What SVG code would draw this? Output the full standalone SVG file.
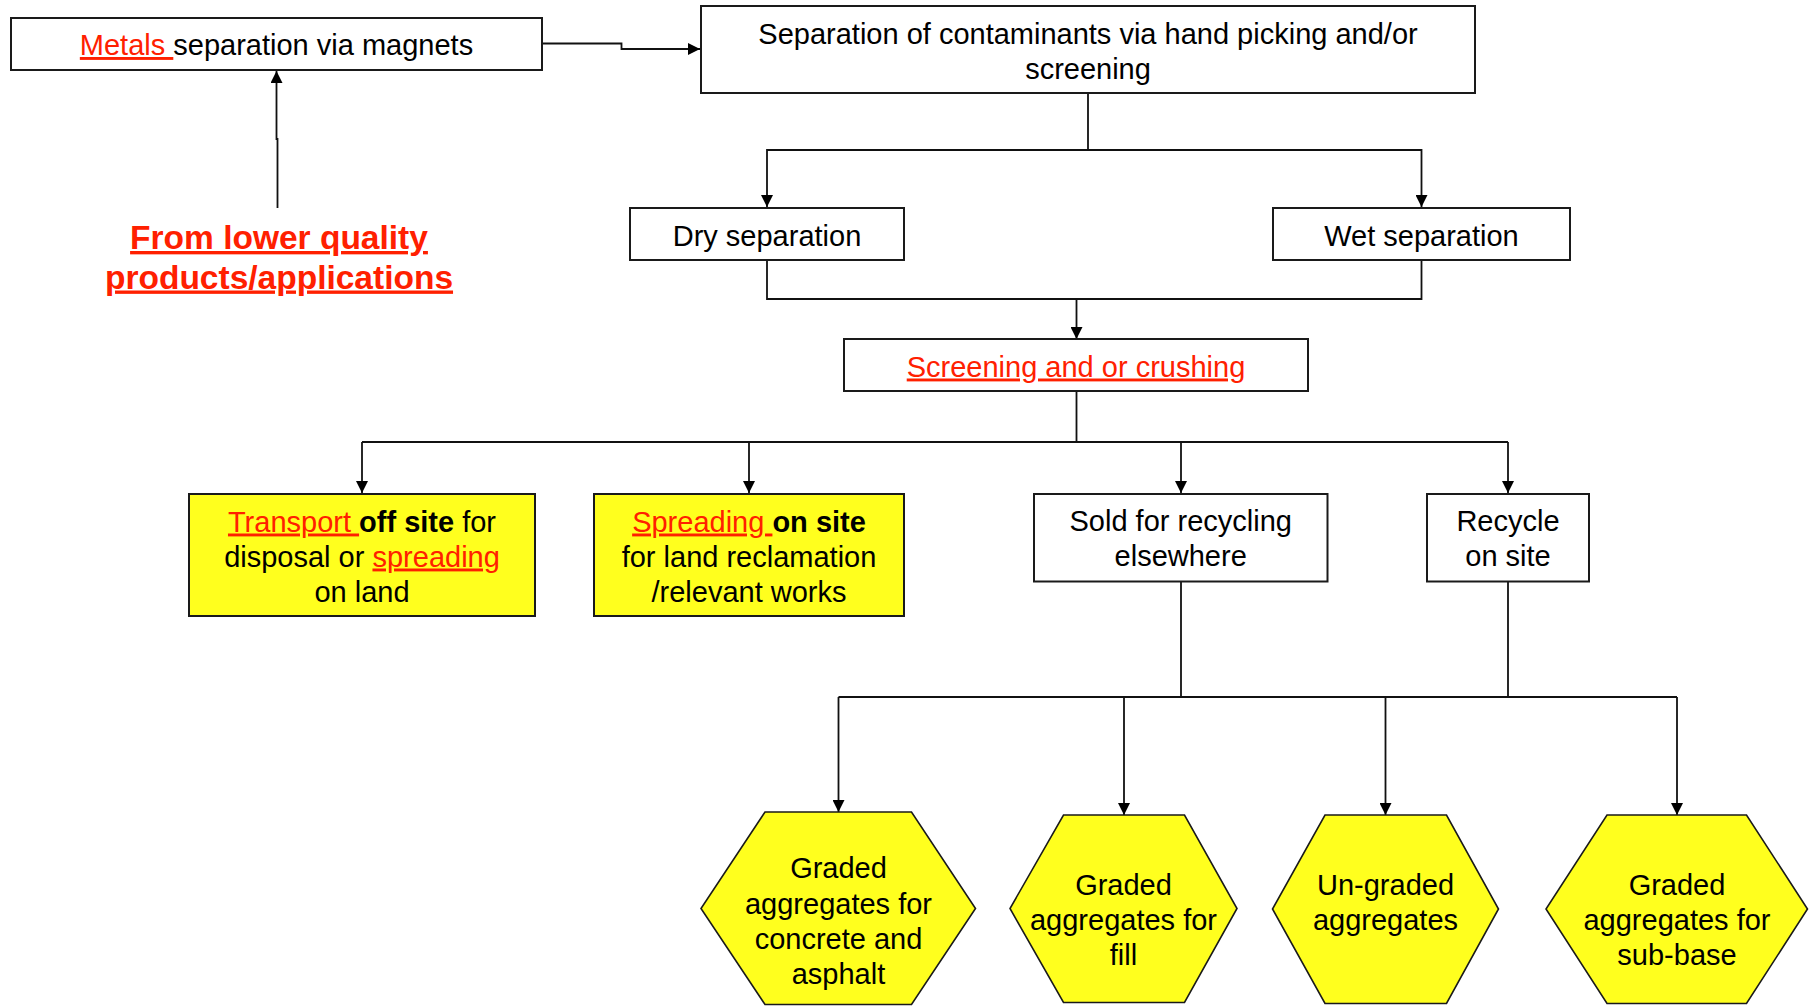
<svg xmlns="http://www.w3.org/2000/svg" width="1815" height="1006" viewBox="0 0 1815 1006">
  <style>
    .box { fill: #ffffff; stroke: #1a1a1a; stroke-width: 2; }
    .hl { fill: #ffff1e; stroke: #1a1a1a; stroke-width: 2; }
    .hex { fill: #ffff1e; stroke: #1a1a1a; stroke-width: 1.6; stroke-linejoin: miter; }
    .t { font-family: "Liberation Sans", Arial, sans-serif; font-size: 29px; fill: #000000; text-anchor: middle; }
    .red { fill: #ff2000; text-decoration: underline; }
    .b { font-weight: bold; }
    .big { font-family: "Liberation Sans", Arial, sans-serif; font-size: 33.5px; font-weight: bold; fill: #ff2000; text-anchor: middle; text-decoration: underline; }
    .wire { fill: none; stroke: #111111; stroke-width: 1.8; }
  </style>
  <defs>
    <marker id="arrow" markerUnits="userSpaceOnUse" markerWidth="12" markerHeight="12" refX="12" refY="6" orient="auto">
      <path d="M0,0 L12,6 L0,12 z" fill="#000000"/>
    </marker>
  </defs>

  <rect width="1815" height="1006" fill="#ffffff"/>

  <!-- connectors -->
  <g id="connectors">
    <path class="wire" d="M542,43.5 H621.5 V49 H700" marker-end="url(#arrow)"/>
    <path class="wire" d="M277.5,208 V139 H276.5 V71" marker-end="url(#arrow)"/>
    <path class="wire" d="M1088,93 V150 H767 V207" marker-end="url(#arrow)"/>
    <path class="wire" d="M1088,150 H1421.5 V207" marker-end="url(#arrow)"/>
    <path class="wire" d="M767,260 V299 H1421.5 V260"/>
    <path class="wire" d="M1076.5,299 V339" marker-end="url(#arrow)"/>
    <path class="wire" d="M1076.5,391 V442 M362,442 H1508"/>
    <path class="wire" d="M362,442 V493" marker-end="url(#arrow)"/>
    <path class="wire" d="M749,442 V493" marker-end="url(#arrow)"/>
    <path class="wire" d="M1181,442 V493" marker-end="url(#arrow)"/>
    <path class="wire" d="M1508,442 V493" marker-end="url(#arrow)"/>
    <path class="wire" d="M1181,581.5 V697 M1508,581.5 V697 M838.5,697 H1677"/>
    <path class="wire" d="M838.5,697 V812" marker-end="url(#arrow)"/>
    <path class="wire" d="M1124,697 V815" marker-end="url(#arrow)"/>
    <path class="wire" d="M1385.5,697 V815" marker-end="url(#arrow)"/>
    <path class="wire" d="M1677,697 V815" marker-end="url(#arrow)"/>
  </g>

  <!-- process boxes -->
  <g id="metals">
    <rect class="box" x="11" y="18" width="531" height="52"/>
    <text class="t" x="276.5" y="55"><tspan class="red">Metals </tspan>separation via magnets</text>
  </g>

  <g id="lower-quality">
    <text class="big" x="279" y="249">From lower quality</text>
    <text class="big" x="279" y="288.5">products/applications</text>
  </g>

  <g id="contaminants">
    <rect class="box" x="701" y="6" width="774" height="87"/>
    <text class="t" x="1088" y="44">Separation of contaminants via hand picking and/or</text>
    <text class="t" x="1088" y="79">screening</text>
  </g>

  <g id="dry">
    <rect class="box" x="630" y="208" width="274" height="52"/>
    <text class="t" x="767" y="245.5">Dry separation</text>
  </g>

  <g id="wet">
    <rect class="box" x="1273" y="208" width="297" height="52"/>
    <text class="t" x="1421.5" y="245.5">Wet separation</text>
  </g>

  <g id="screening">
    <rect class="box" x="844" y="339" width="464" height="52"/>
    <text class="t" x="1076" y="376.5"><tspan class="red">Screening and or crushing</tspan></text>
  </g>

  <!-- outlets -->
  <g id="transport">
    <rect class="hl" x="189" y="494" width="346" height="122"/>
    <text class="t" x="362" y="531.5"><tspan class="red">Transport </tspan><tspan class="b">off site</tspan> for</text>
    <text class="t" x="362" y="566.5">disposal or <tspan class="red">spreading</tspan></text>
    <text class="t" x="362" y="601.5">on land</text>
  </g>

  <g id="spreading">
    <rect class="hl" x="594" y="494" width="310" height="122"/>
    <text class="t" x="749" y="531.5"><tspan class="red">Spreading </tspan><tspan class="b">on site</tspan></text>
    <text class="t" x="749" y="566.5">for land reclamation</text>
    <text class="t" x="749" y="601.5">/relevant works</text>
  </g>

  <g id="sold">
    <rect class="box" x="1034" y="494" width="293.5" height="87.5"/>
    <text class="t" x="1180.7" y="531">Sold for recycling</text>
    <text class="t" x="1180.7" y="566">elsewhere</text>
  </g>

  <g id="recycle">
    <rect class="box" x="1427" y="494" width="162" height="87.5"/>
    <text class="t" x="1508" y="531">Recycle</text>
    <text class="t" x="1508" y="566">on site</text>
  </g>

  <!-- aggregate products -->
  <g id="concrete">
    <polygon class="hex" points="765,812 911.5,812 975.5,908.5 911.5,1004.5 765,1004.5 701,908.5"/>
    <text class="t" x="838.5" y="878">Graded</text>
    <text class="t" x="838.5" y="913.5">aggregates for</text>
    <text class="t" x="838.5" y="949">concrete and</text>
    <text class="t" x="838.5" y="984">asphalt</text>
  </g>

  <g id="fill">
    <polygon class="hex" points="1063.5,815 1184.5,815 1237,908.5 1184.5,1002.5 1063.5,1002.5 1010,908.5"/>
    <text class="t" x="1123.5" y="894.5">Graded</text>
    <text class="t" x="1123.5" y="930">aggregates for</text>
    <text class="t" x="1123.5" y="965">fill</text>
  </g>

  <g id="ungraded">
    <polygon class="hex" points="1325,815 1446.5,815 1498.5,909 1446.5,1003.5 1325,1003.5 1272.5,909"/>
    <text class="t" x="1385.5" y="894.5">Un-graded</text>
    <text class="t" x="1385.5" y="930">aggregates</text>
  </g>

  <g id="subbase">
    <polygon class="hex" points="1607,815 1746.5,815 1807.5,909 1746.5,1003.5 1607,1003.5 1546,909"/>
    <text class="t" x="1677" y="894.5">Graded</text>
    <text class="t" x="1677" y="930">aggregates for</text>
    <text class="t" x="1677" y="965">sub-base</text>
  </g>
</svg>
